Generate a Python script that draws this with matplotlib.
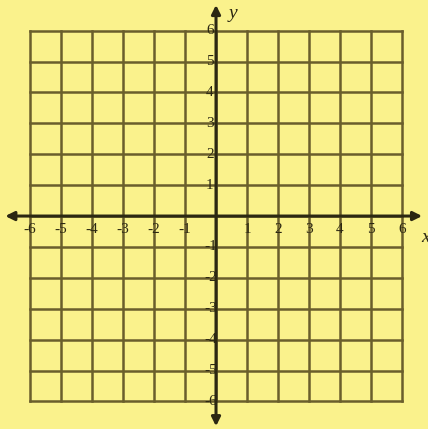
import matplotlib.pyplot as plt
import numpy as np

# grid range and tick labels
grid_vals = np.arange(-6, 7)
x_ticks = [-6, -5, -4, -3, -2, -1, 1, 2, 3, 4, 5, 6]
y_ticks = [-6, -5, -4, -3, -2, -1, 1, 2, 3, 4, 5, 6]

bg = "#faf28c"
grid_col = "#6a5e2c"
axis_col = "#2c2812"

fig = plt.figure(figsize=(4.28, 4.29), dpi=100)
fig.patch.set_facecolor(bg)
ax = fig.add_axes([0, 0, 1, 1])
ax.set_facecolor(bg)
ax.set_xlim(-6.97, 6.84)
ax.set_ylim(-6.89, 6.99)
ax.axis("off")

# grid lines
for v in grid_vals:
    ax.plot([v, v], [-6, 6], color=grid_col, lw=1.8, zorder=1)
    ax.plot([-6, 6], [v, v], color=grid_col, lw=1.8, zorder=1)

# axes with arrows
arrow = dict(arrowstyle="<|-|>", color=axis_col, lw=2.2, mutation_scale=13,
             shrinkA=0, shrinkB=0)
ax.annotate("", xy=(-6.8, 0), xytext=(6.65, 0), arrowprops=arrow, zorder=3)
ax.annotate("", xy=(0, 6.83), xytext=(0, -6.8), arrowprops=arrow, zorder=3)

font = dict(family="Liberation Serif", color=axis_col)
for v in x_ticks:
    ax.text(v, -0.42, str(v), ha="center", va="center", fontsize=11, **font)
for v in y_ticks:
    ax.text(-0.2 if v > 0 else 0.05, v, str(v),
            ha="right" if v < 0 else "center",
            va="center", fontsize=11, **font)

ax.text(0.55, 6.55, "y", ha="center", va="center", fontsize=14,
        style="italic", **font)
ax.text(6.75, -0.7, "x", ha="center", va="center", fontsize=14,
        style="italic", **font)

fig.savefig("out.png", dpi=100, facecolor=bg)
